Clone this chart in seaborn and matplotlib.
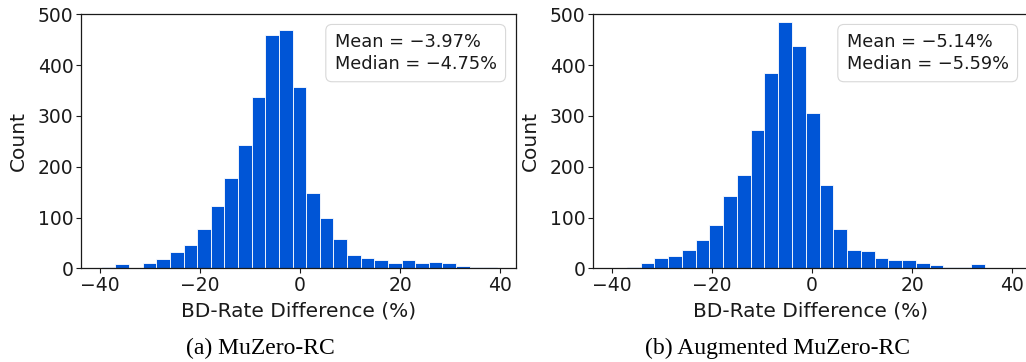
import numpy as np
import pandas as pd
import matplotlib
matplotlib.use("Agg")
import matplotlib.pyplot as plt
import seaborn as sns

# ---- data ----
counts_a = [3, 8, 1, 10, 19, 32, 46, 78, 123, 177, 243, 337, 459, 470, 357,
            148, 100, 57, 26, 21, 16, 10, 16, 10, 12, 10, 5, 3, 2]
range_a = (-39.7, 39.4)
counts_b = [3, 10, 21, 24, 36, 56, 85, 143, 183, 272, 385, 485, 438, 305, 164,
            77, 36, 35, 20, 16, 16, 10, 6, 3, 3, 8, 1]
range_b = (-37.1, 37.3)
stats_a = ("-3.97", "-4.75")
stats_b = ("-5.14", "-5.59")
captions = ["(a) MuZero-RC", "(b) Augmented MuZero-RC"]
xlabel = "BD-Rate Difference (%)"
ylabel = "Count"
xticks = [-40, -20, 0, 20, 40]
yticks = [0, 100, 200, 300, 400, 500]

sns.set_style("ticks")
plt.rcParams['font.family'] = ['DejaVu Sans']
plt.rcParams['axes.unicode_minus'] = True

BAR = "#0055d6"
TXT = "#1a1a1a"
fig = plt.figure(figsize=(10.26, 3.62), dpi=100)
W, H = 1026, 362
axes_px = [(81.3, 14.3, 434.7, 254.0), (593.3, 14.3, 434.7, 254.0)]
datasets = [(counts_a, range_a, stats_a), (counts_b, range_b, stats_b)]

for (x0, y0, w, h), (counts, rng, st) in zip(axes_px, datasets):
    ax = fig.add_axes([x0 / W, 1 - (y0 + h) / H, w / W, h / H])
    edges = np.linspace(rng[0], rng[1], len(counts) + 1)
    centers = (edges[:-1] + edges[1:]) / 2
    df = pd.DataFrame({"x": centers, "w": np.asarray(counts, dtype=float)})
    sns.histplot(data=df, x="x", weights="w", bins=edges.tolist(), ax=ax,
                 color=BAR, alpha=1, edgecolor="white", linewidth=0.6)
    ax.set_xlim(-43.8, 43.2)
    ax.set_ylim(0, 500)
    ax.set_xticks(xticks)
    ax.set_yticks(yticks)
    ax.tick_params(labelsize=13.5, length=3.5, width=0.8, colors=TXT, pad=2)
    ax.set_xlabel(xlabel, fontsize=14.5, color=TXT, labelpad=5)
    ax.set_ylabel(ylabel, fontsize=14.5, color=TXT, labelpad=7)
    for s in ax.spines.values():
        s.set_color(TXT)
        s.set_linewidth(0.9)
    ax.text(0.9556, 0.925,
            f"Mean = {st[0].replace('-', '−')}%\nMedian = {st[1].replace('-', '−')}%",
            transform=ax.transAxes, ha="right", va="top", multialignment="left",
            fontsize=12.8, color=TXT, linespacing=1.25,
            bbox=dict(boxstyle="round,pad=0.5,rounding_size=0.35", fc="white",
                      ec="#d8d8d8", lw=0.8))

fig.text(260.5 / W, 1 - 348 / H, captions[0], ha="center", va="center",
         fontsize=17, family="Liberation Serif", color="black")
fig.text(777.5 / W, 1 - 348 / H, captions[1], ha="center", va="center",
         fontsize=17, family="Liberation Serif", color="black")

fig.savefig("out.png", dpi=100)
